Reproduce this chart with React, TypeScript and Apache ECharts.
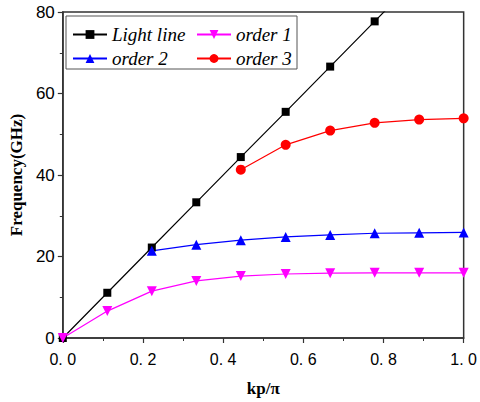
import React, { useEffect, useRef } from "react";
import * as echarts from "echarts";

const kValues = [0, 0.111, 0.222, 0.333, 0.444, 0.556, 0.667, 0.778, 0.889, 1.0];
const lightLine = [0, 11.1, 22.2, 33.3, 44.4, 55.5, 66.6, 77.7, 88.8, null];
const order1 = [0, 6.6, 11.5, 14.0, 15.2, 15.7, 15.9, 16.0, 16.0, 16.0];
const order2 = [null, null, 21.4, 22.9, 24.0, 24.8, 25.3, 25.7, 25.8, 25.9];
const order3 = [null, null, null, null, 41.3, 47.4, 50.9, 52.8, 53.6, 53.9];

const pairs = (ys: (number | null)[]) =>
  kValues.map((k, i) => [k, ys[i]]).filter((p) => p[1] !== null);

export default function App() {
  const ref = useRef<HTMLDivElement>(null);
  useEffect(() => {
    const chart = echarts.init(ref.current!, null, { renderer: "svg" });
    const axisCol = "#333";
    const legendText = {
      fontFamily: "Liberation Serif",
      fontStyle: "italic" as const,
      fontSize: 19,
      color: "#000",
    };
    chart.setOption({
      animation: false,
      grid: {
        left: 60,
        right: 13,
        top: 12,
        bottom: 62,
        show: true,
        borderColor: axisCol,
        borderWidth: 1.5,
      },
      graphic: [
        {
          type: "rect",
          shape: { x: 66, y: 16, width: 231, height: 53 },
          style: { fill: "#fff", stroke: "#555", lineWidth: 1 },
          z: 5,
        },
      ],
      legend: [
        {
          orient: "vertical",
          left: 67,
          top: 20,
          itemWidth: 34,
          itemHeight: 11,
          itemGap: 5,
          textStyle: legendText,
          data: ["Light line", "order 2"],
          z: 10,
        },
        {
          orient: "vertical",
          left: 191,
          top: 20,
          itemWidth: 34,
          itemHeight: 11,
          itemGap: 5,
          textStyle: legendText,
          data: ["order 1", "order 3"],
          z: 10,
        },
      ],
      xAxis: {
        type: "value",
        min: 0,
        max: 1,
        interval: 0.2,
        name: "kp/π",
        nameLocation: "middle",
        nameGap: 42,
        nameTextStyle: {
          fontFamily: "Liberation Serif",
          fontWeight: "bold",
          fontSize: 17,
          color: "#000",
        },
        axisLine: { show: true, lineStyle: { color: axisCol, width: 1.5 } },
        axisTick: { show: true, inside: false, length: 5, lineStyle: { color: axisCol, width: 1.2 } },
        minorTick: { show: true, splitNumber: 2, length: 3, lineStyle: { color: axisCol, width: 1 } },
        splitLine: { show: false },
        axisLabel: {
          fontFamily: "Liberation Sans",
          fontSize: 16,
          color: "#000",
          margin: 13,
          formatter: (v: number) => {
            const s = v.toFixed(1);
            return s.replace(".", ". ");
          },
        },
      },
      yAxis: {
        type: "value",
        min: 0,
        max: 80,
        interval: 20,
        name: "Frequency(GHz)",
        nameLocation: "middle",
        nameGap: 36,
        nameTextStyle: {
          fontFamily: "Liberation Serif",
          fontWeight: "bold",
          fontSize: 17,
          color: "#000",
        },
        axisLine: { show: true, lineStyle: { color: axisCol, width: 1.5 } },
        axisTick: { show: true, inside: false, length: 5, lineStyle: { color: axisCol, width: 1.2 } },
        minorTick: { show: true, splitNumber: 2, length: 3, lineStyle: { color: axisCol, width: 1 } },
        splitLine: { show: false },
        axisLabel: {
          fontFamily: "Liberation Sans",
          fontSize: 17,
          color: "#000",
          margin: 8,
        },
      },
      series: [
        {
          name: "Light line",
          type: "line",
          data: pairs(lightLine),
          symbol: "rect",
          symbolSize: 8,
          clip: true,
          color: "#000",
          lineStyle: { width: 1.2, color: "#000" },
          itemStyle: { color: "#000" },
        },
        {
          name: "order 1",
          type: "line",
          data: pairs(order1),
          symbol: "triangle",
          symbolRotate: 180,
          symbolSize: 10,
          color: "#ff00ff",
          lineStyle: { width: 1.2, color: "#ff00ff" },
          itemStyle: { color: "#ff00ff" },
        },
        {
          name: "order 2",
          type: "line",
          data: pairs(order2),
          symbol: "triangle",
          symbolSize: 10,
          color: "#0000ff",
          lineStyle: { width: 1.2, color: "#0000ff" },
          itemStyle: { color: "#0000ff" },
        },
        {
          name: "order 3",
          type: "line",
          data: pairs(order3),
          symbol: "circle",
          symbolSize: 10,
          color: "#ff0000",
          lineStyle: { width: 1.2, color: "#ff0000" },
          itemStyle: { color: "#ff0000" },
        },
      ],
    });
    return () => chart.dispose();
  }, []);
  return <div ref={ref} style={{ width: 480, height: 402, position: "absolute", left: 0, top: 0 }} />;
}
